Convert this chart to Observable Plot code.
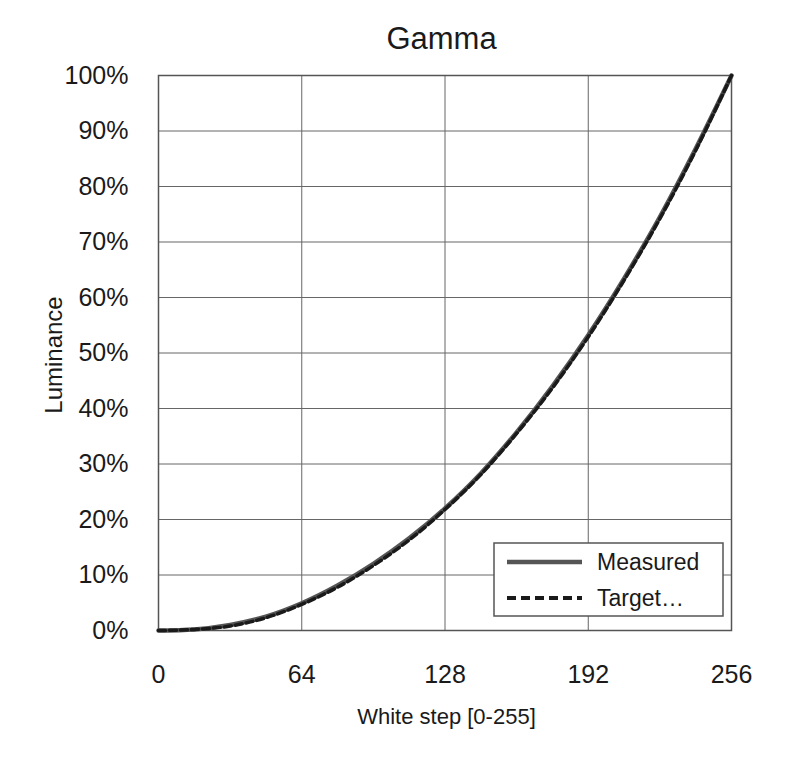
<!DOCTYPE html>
<html><head><meta charset="utf-8">
<script src="https://cdn.jsdelivr.net/npm/d3@7"></script>
<script src="https://cdn.jsdelivr.net/npm/@observablehq/plot@0.6"></script>
<style>
html,body{margin:0;padding:0;background:#fff;}
svg{font-family:"Liberation Sans",Arial,sans-serif;}
</style></head>
<body><div id="chart"></div>
<script>
const steps = [0,16,32,48,64,80,96,112,128,144,160,176,192,208,224,240,256];
const measured = [0,0.002,0.010,0.025,0.049,0.081,0.120,0.166,0.220,0.283,0.357,0.440,0.532,0.634,0.745,0.868,1.0];
const target   = [0,0.002,0.008,0.023,0.047,0.078,0.117,0.163,0.218,0.281,0.355,0.437,0.529,0.631,0.742,0.865,1.0];
const xTicks = [0,64,128,192,256];
const yTicks = [0,0.1,0.2,0.3,0.4,0.5,0.6,0.7,0.8,0.9,1.0];
const legendLabels = ["Measured","Target\u2026"];

const mData = steps.map((s,i)=>({x:s,y:measured[i]}));
const tData = steps.map((s,i)=>({x:s,y:target[i]}));

const W=796,H=766,mL=158,mR=65,mT=75,mB=136;
const plot = Plot.plot({
  width:W,height:H,marginLeft:mL,marginRight:mR,marginTop:mT,marginBottom:mB,
  style:{fontFamily:"'Liberation Sans',Arial,sans-serif",fontSize:"25px",color:"#1a1a1a",background:"#fff"},
  x:{domain:[0,256],ticks:xTicks,tickSize:0,tickPadding:35,label:null,tickFormat:d=>d},
  y:{domain:[0,1],ticks:yTicks,tickSize:0,tickPadding:30,label:null,tickFormat:d3.format(".0%")},
  marks:[
    Plot.gridX(xTicks,{stroke:"#666",strokeOpacity:1,strokeWidth:1}),
    Plot.gridY(yTicks,{stroke:"#666",strokeOpacity:1,strokeWidth:1}),
    Plot.frame({stroke:"#555",strokeWidth:1.5}),
    Plot.line(mData,{x:"x",y:"y",stroke:"#555",strokeWidth:4.5,curve:"monotone-x"}),
    Plot.line(tData,{x:"x",y:"y",stroke:"#1a1a1a",strokeWidth:3.5,strokeDasharray:"7,4",curve:"monotone-x"})
  ]
});
document.getElementById("chart").appendChild(plot);
const svg = d3.select(plot);
const cx = mL + (W-mL-mR)/2;
svg.append("text").attr("x",cx-3).attr("y",49).attr("text-anchor","middle")
  .style("font-size","31px").attr("fill","#1a1a1a").text("Gamma");
svg.append("text").attr("x",cx+2).attr("y",724).attr("text-anchor","middle")
  .style("font-size","22px").attr("fill","#1a1a1a").text("White step [0-255]");
svg.append("text").attr("transform","translate(62,355) rotate(-90)").attr("text-anchor","middle")
  .style("font-size","24px").attr("fill","#1a1a1a").text("Luminance");
// legend
const lg = svg.append("g");
lg.append("rect").attr("x",494).attr("y",543).attr("width",229).attr("height",73)
  .attr("fill","#fff").attr("stroke","#555").attr("stroke-width",1.5);
const styles=[{stroke:"#555",w:4.5,dash:null},{stroke:"#1a1a1a",w:4,dash:"9,5"}];
legendLabels.forEach((t,i)=>{
  const y = 562 + i*36;
  lg.append("line").attr("x1",507).attr("x2",582).attr("y1",y).attr("y2",y)
    .attr("stroke",styles[i].stroke).attr("stroke-width",styles[i].w)
    .attr("stroke-dasharray",styles[i].dash);
  lg.append("text").attr("x",597).attr("y",y+8).attr("text-anchor","start")
    .style("font-size","23px").attr("fill","#1a1a1a").text(t);
});
</script></body></html>
